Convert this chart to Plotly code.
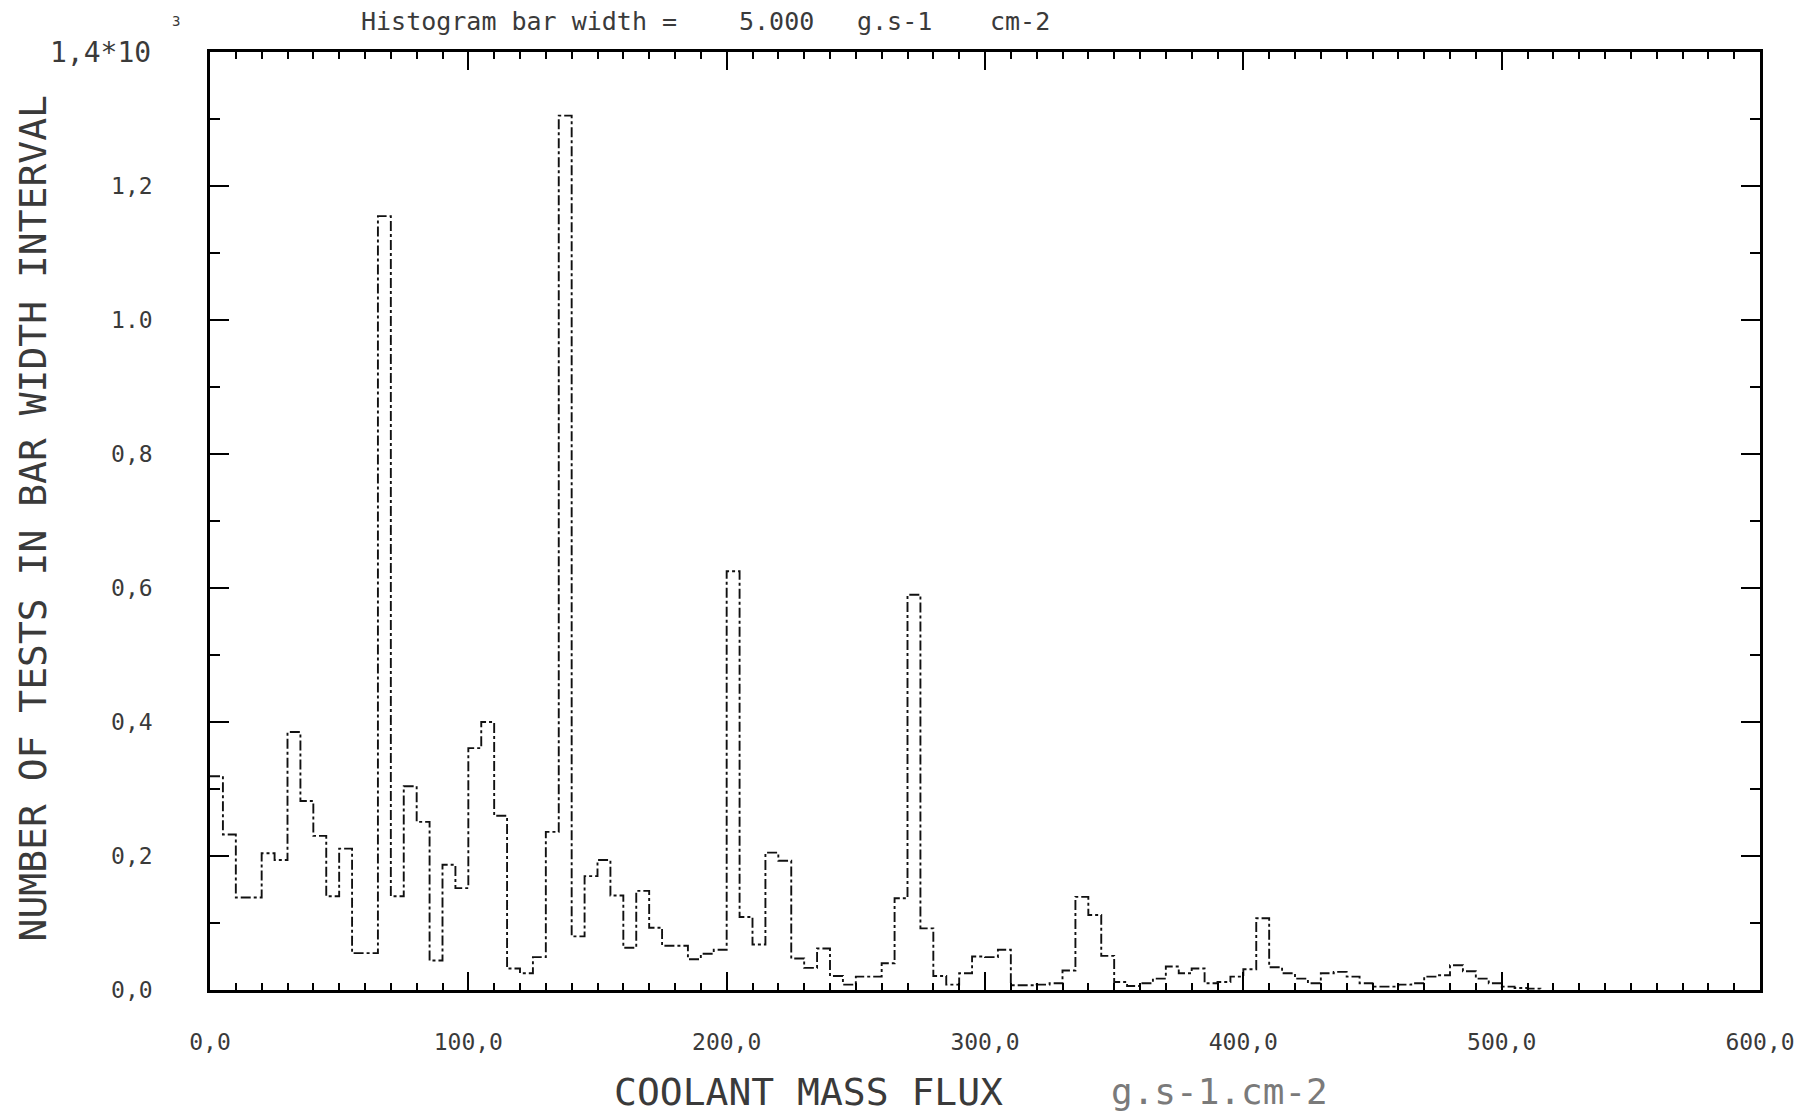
import numpy as np
import plotly.graph_objects as go

# Histogram of coolant mass flux: number of tests per 5 g.s-1.cm-2 bin
bin_width = 5.0
counts = [
    319, 232, 138, 138, 204, 194, 385, 282, 230, 140,
    211, 55, 55, 1155, 140, 304, 251, 44, 187, 152,
    361, 400, 260, 32, 25, 49, 236, 1305, 80, 170,
    194, 141, 63, 148, 93, 66, 66, 46, 54, 60,
    625, 109, 68, 205, 193, 47, 33, 62, 21, 8,
    20, 20, 40, 137, 590, 92, 21, 8, 25, 50,
    49, 60, 7, 7, 8, 10, 29, 139, 112, 51,
    12, 6, 10, 17, 35, 25, 32, 10, 12, 20,
    31, 107, 34, 25, 17, 10, 25, 27, 20, 10,
    5, 5, 8, 10, 20, 22, 37, 28, 17, 10,
    5, 3, 2,
]

x_tickvals = [0, 100, 200, 300, 400, 500, 600]
x_ticktext = ["0,0", "100,0", "200,0", "300,0", "400,0", "500,0", "600,0"]
y_tickvals = [0.0, 0.2, 0.4, 0.6, 0.8, 1.0, 1.2, 1.4]
y_ticktext = ["0,0", "0,2", "0,4", "0,6", "0,8", "1.0", "1,2", ""]

# step outline: left edges of each bin, plus closing edge back to zero
vals = np.array(counts, dtype=float) / 1000.0
edges = np.arange(len(counts) + 1) * bin_width
xs = np.concatenate([edges, [edges[-1]]])
ys = np.concatenate([vals, [0.0, 0.0]])

MONO = "DejaVu Sans Mono, Liberation Mono, monospace"
TXT = "#3a3a3a"

fig = go.Figure()
fig.add_trace(go.Scatter(
    x=xs, y=ys, mode="lines", line_shape="hv",
    line=dict(color="#111111", width=1.9, dash="10px,3px,3px,3px"),
    hoverinfo="skip", showlegend=False,
))

axis_common = dict(
    showline=True, linecolor="black", linewidth=2.5, mirror="ticks",
    showgrid=False, zeroline=False, ticks="inside",
    tickcolor="black", tickwidth=2,
    tickfont=dict(family=MONO, size=23, color=TXT),
)

fig.update_xaxes(
    range=[0, 600], tickmode="array", tickvals=x_tickvals, ticktext=x_ticktext,
    ticklen=18, ticklabelstandoff=30,
    minor=dict(dtick=10, tick0=0, ticks="inside", ticklen=7,
               tickcolor="black", tickwidth=1.5),
    **axis_common,
)
fig.update_yaxes(
    range=[0, 1.4], tickmode="array", tickvals=y_tickvals, ticktext=y_ticktext,
    ticklen=19, ticklabelstandoff=50,
    minor=dict(dtick=0.1, tick0=0, ticks="inside", ticklen=10,
               tickcolor="black", tickwidth=1.5),
    **axis_common,
)

ann = []
# top value label with exponent
ann.append(dict(text="1,4*10", x=-0.037, y=1.0, xref="paper", yref="paper",
                xanchor="right", yanchor="middle", showarrow=False,
                font=dict(family=MONO, size=28, color=TXT)))
ann.append(dict(text="3", x=-0.022, y=1.033, xref="paper", yref="paper",
                xanchor="center", yanchor="middle", showarrow=False,
                font=dict(family=MONO, size=14, color=TXT)))
# heading pieces
ann.append(dict(text="Histogram bar width =", x=0.096, y=1.033, xref="paper", yref="paper",
                xanchor="left", yanchor="middle", showarrow=False,
                font=dict(family=MONO, size=25, color=TXT)))
ann.append(dict(text="5.000", x=0.34, y=1.033, xref="paper", yref="paper",
                xanchor="left", yanchor="middle", showarrow=False,
                font=dict(family=MONO, size=25, color=TXT)))
ann.append(dict(text="g.s-1", x=0.416, y=1.033, xref="paper", yref="paper",
                xanchor="left", yanchor="middle", showarrow=False,
                font=dict(family=MONO, size=25, color=TXT)))
ann.append(dict(text="cm-2", x=0.543, y=1.033, xref="paper", yref="paper",
                xanchor="right", yanchor="middle", showarrow=False,
                font=dict(family=MONO, size=25, color=TXT)))
# axis titles
ann.append(dict(text="NUMBER OF TESTS IN BAR WIDTH INTERVAL", x=-0.114, y=0.503,
                xref="paper", yref="paper", xanchor="center", yanchor="middle",
                textangle=-90, showarrow=False,
                font=dict(family=MONO, size=38, color=TXT)))
ann.append(dict(text="COOLANT MASS FLUX", x=0.386, y=-0.1087, xref="paper", yref="paper",
                xanchor="center", yanchor="middle", showarrow=False,
                font=dict(family=MONO, size=38, color=TXT)))
ann.append(dict(text="g.s-1.cm-2", x=0.651, y=-0.1087, xref="paper", yref="paper",
                xanchor="center", yanchor="middle", showarrow=False,
                font=dict(family=MONO, size=36, color="#7a7a7a")))

fig.update_layout(
    width=1807, height=1117,
    margin=dict(l=210, r=38, t=52, b=127),
    paper_bgcolor="white", plot_bgcolor="white",
    annotations=ann, showlegend=False,
)

fig.write_html("out.html")
